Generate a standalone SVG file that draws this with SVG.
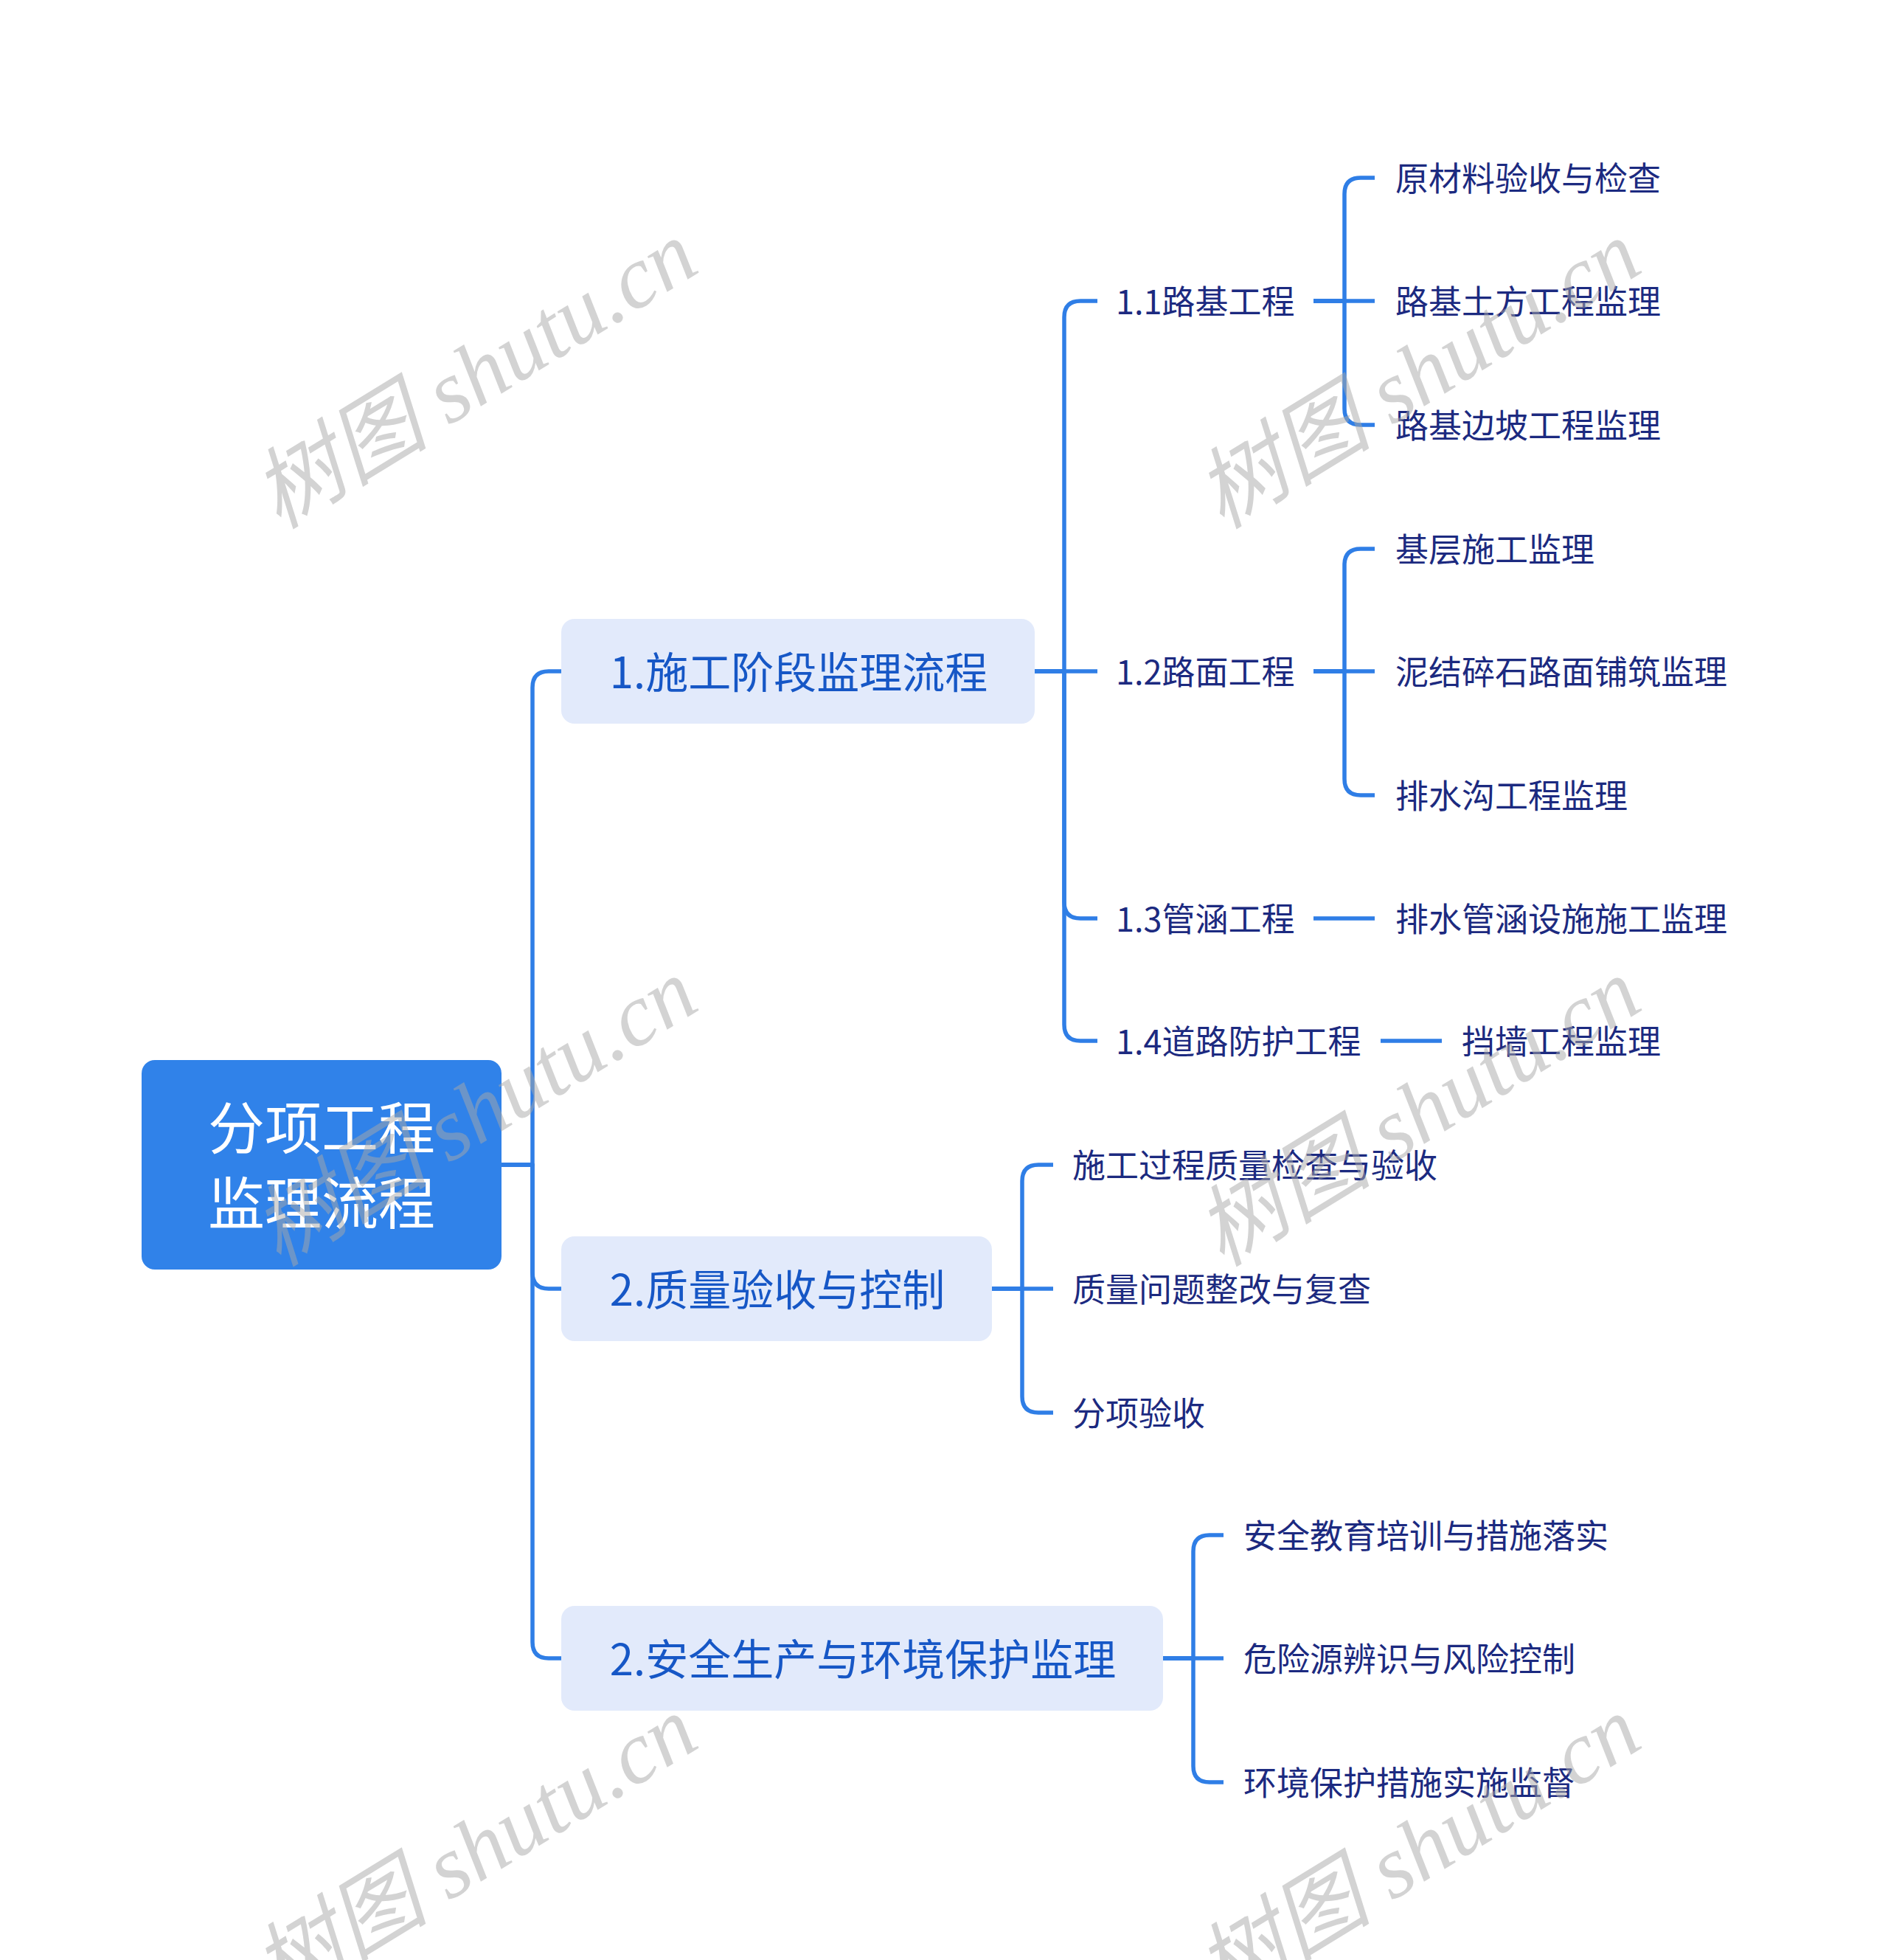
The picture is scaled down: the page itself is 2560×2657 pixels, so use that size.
<svg xmlns="http://www.w3.org/2000/svg" width="2560" height="2657" viewBox="0 0 2560 2657">
<style>
.lnk{fill:none;stroke:#2F7EE6;stroke-width:5.5;stroke-linejoin:round}
.t0{font-family:"Noto Sans CJK SC","Noto Sans",sans-serif;font-size:77px;fill:#ffffff;text-anchor:middle;dominant-baseline:central}
.t1{font-family:"Noto Sans CJK SC","Noto Sans",sans-serif;font-size:58px;fill:#1657C6;text-anchor:middle;dominant-baseline:central}
.t2{font-family:"Noto Sans CJK SC","Noto Sans",sans-serif;font-size:45px;fill:#1C2A80;dominant-baseline:central}
.b1{fill:#E2EAFB}
.wm{font-family:"Liberation Serif","Noto Sans CJK SC",serif;font-style:italic;font-size:120px;fill:#a8a8a8;opacity:0.5;text-anchor:middle;dominant-baseline:central}
</style>
<rect width="2560" height="2657" fill="#ffffff"/>
<g id="connectors">
<path class="lnk" d="M680,1579 H722 V932 Q722,910 744,910 H761"/>
<path class="lnk" d="M680,1579 H722 V1725 Q722,1747 744,1747 H761"/>
<path class="lnk" d="M680,1579 H722 V2226 Q722,2248 744,2248 H761"/>
<path class="lnk" d="M1403,910 H1443 V430 Q1443,408 1465,408 H1488"/>
<path class="lnk" d="M1403,910 H1488"/>
<path class="lnk" d="M1403,910 H1443 V1223 Q1443,1245 1465,1245 H1488"/>
<path class="lnk" d="M1403,910 H1443 V1389 Q1443,1411 1465,1411 H1488"/>
<path class="lnk" d="M1781,408 H1823 V263 Q1823,241 1845,241 H1864"/>
<path class="lnk" d="M1781,408 H1864"/>
<path class="lnk" d="M1781,408 H1823 V554 Q1823,576 1845,576 H1864"/>
<path class="lnk" d="M1781,910 H1823 V766 Q1823,744 1845,744 H1864"/>
<path class="lnk" d="M1781,910 H1864"/>
<path class="lnk" d="M1781,910 H1823 V1056 Q1823,1078 1845,1078 H1864"/>
<path class="lnk" d="M1781,1245 H1864"/>
<path class="lnk" d="M1872,1411 H1955"/>
<path class="lnk" d="M1345,1747 H1386 V1601 Q1386,1579 1408,1579 H1428"/>
<path class="lnk" d="M1345,1747 H1428"/>
<path class="lnk" d="M1345,1747 H1386 V1893 Q1386,1915 1408,1915 H1428"/>
<path class="lnk" d="M1577,2248 H1618 V2103 Q1618,2081 1640,2081 H1659"/>
<path class="lnk" d="M1577,2248 H1659"/>
<path class="lnk" d="M1577,2248 H1618 V2394 Q1618,2416 1640,2416 H1659"/>
</g>
<g id="root">
<rect x="192" y="1437" width="488" height="284" rx="18" fill="#3082E9"/>
<text class="t0" x="436" y="1524">分项工程</text>
<text class="t0" x="436" y="1626">监理流程</text>
</g>
<g id="n1"><rect class="b1" x="761" y="839" width="642" height="142" rx="18"/><text class="t1" x="1083" y="908">1.施工阶段监理流程</text></g>
<g id="n2"><rect class="b1" x="761" y="1676" width="584" height="142" rx="18"/><text class="t1" x="1054" y="1745">2.质量验收与控制</text></g>
<g id="n3"><rect class="b1" x="761" y="2177" width="816" height="142" rx="18"/><text class="t1" x="1170" y="2246">2.安全生产与环境保护监理</text></g>
<g id="n11"><text class="t2" x="1513" y="406">1.1路基工程</text></g>
<g id="n12"><text class="t2" x="1513" y="908">1.2路面工程</text></g>
<g id="n13"><text class="t2" x="1513" y="1243">1.3管涵工程</text></g>
<g id="n14"><text class="t2" x="1513" y="1409">1.4道路防护工程</text></g>
<g id="n111"><text class="t2" x="1892" y="239">原材料验收与检查</text></g>
<g id="n112"><text class="t2" x="1892" y="406">路基土方工程监理</text></g>
<g id="n113"><text class="t2" x="1892" y="574">路基边坡工程监理</text></g>
<g id="n121"><text class="t2" x="1892" y="742">基层施工监理</text></g>
<g id="n122"><text class="t2" x="1892" y="908">泥结碎石路面铺筑监理</text></g>
<g id="n123"><text class="t2" x="1892" y="1076">排水沟工程监理</text></g>
<g id="n131"><text class="t2" x="1892" y="1243">排水管涵设施施工监理</text></g>
<g id="n141"><text class="t2" x="1982" y="1409">挡墙工程监理</text></g>
<g id="n21"><text class="t2" x="1454" y="1577">施工过程质量检查与验收</text></g>
<g id="n22"><text class="t2" x="1454" y="1745">质量问题整改与复查</text></g>
<g id="n23"><text class="t2" x="1454" y="1913">分项验收</text></g>
<g id="n31"><text class="t2" x="1686" y="2079">安全教育培训与措施落实</text></g>
<g id="n32"><text class="t2" x="1686" y="2246">危险源辨识与风险控制</text></g>
<g id="n33"><text class="t2" x="1686" y="2414">环境保护措施实施监督</text></g>
<g id="watermarks">
<text class="wm" transform="translate(644,508) rotate(-31.5)">树图 shutu.cn</text>
<text class="wm" transform="translate(1923,508) rotate(-31.5)">树图 shutu.cn</text>
<text class="wm" transform="translate(644,1508) rotate(-31.5)">树图 shutu.cn</text>
<text class="wm" transform="translate(1923,1508) rotate(-31.5)">树图 shutu.cn</text>
<text class="wm" transform="translate(644,2508) rotate(-31.5)">树图 shutu.cn</text>
<text class="wm" transform="translate(1923,2508) rotate(-31.5)">树图 shutu.cn</text>
</g>
</svg>
